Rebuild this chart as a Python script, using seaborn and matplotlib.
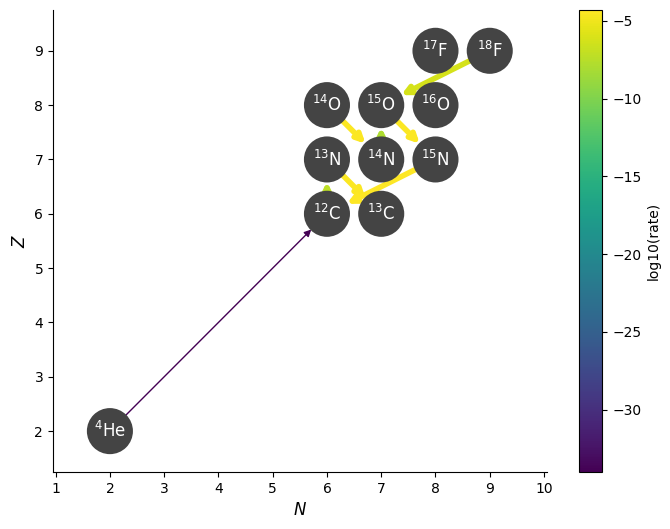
import matplotlib
matplotlib.use("Agg")
import matplotlib.pyplot as plt
import seaborn as sns
import pandas as pd
import numpy as np
from matplotlib.patches import FancyArrowPatch

nuc_labels = [r"$^{4}$He", r"$^{12}$C", r"$^{13}$C", r"$^{13}$N", r"$^{14}$N", r"$^{15}$N",
              r"$^{14}$O", r"$^{15}$O", r"$^{16}$O", r"$^{17}$F", r"$^{18}$F"]
nuc_N = [2, 6, 7, 6, 7, 8, 6, 7, 8, 8, 9]
nuc_Z = [2, 6, 6, 7, 7, 7, 8, 8, 8, 9, 9]

rate_from = [(2, 2), (6, 6), (6, 7), (6, 8), (7, 8), (8, 7), (7, 7), (9, 9)]
rate_to = [(6, 6), (6, 7), (7, 6), (7, 7), (8, 7), (6, 6), (7, 8), (7, 8)]
rate_log = [-34.0, -7.3, -4.5, -4.5, -4.5, -4.4, -8.0, -6.2]

vmin, vmax = -34.0, -4.3

fig = plt.figure(figsize=(6.7, 5.29), dpi=100)
ax = fig.add_axes([0.079, 0.108, 0.737, 0.873])
cax = fig.add_axes([0.864, 0.108, 0.035, 0.873])
cmap = plt.get_cmap("viridis")
norm = matplotlib.colors.Normalize(vmin=vmin, vmax=vmax)

for (a, b, r) in zip(rate_from, rate_to, rate_log):
    lw = 1.0 if r < -20 else 4.0
    ms = 10 if r < -20 else 12
    arr = FancyArrowPatch(posA=a, posB=b, arrowstyle="-|>", mutation_scale=ms,
                          color=cmap(norm(r)), lw=lw, shrinkA=14, shrinkB=16, zorder=1)
    ax.add_patch(arr)

df = pd.DataFrame({"N": nuc_N, "Z": nuc_Z})
sns.scatterplot(data=df, x="N", y="Z", s=1100, color="#444444", edgecolor="none", ax=ax, zorder=2)
for n, z, lab in zip(nuc_N, nuc_Z, nuc_labels):
    ax.text(n, z, lab, color="white", ha="center", va="center", fontsize=12, zorder=3)

ax.set_xlim(0.95, 10.05)
ax.set_ylim(1.25, 9.75)
ax.set_xticks(range(1, 11))
ax.set_yticks(range(2, 10))
ax.set_xlabel("$N$", fontsize=12)
ax.set_ylabel("$Z$", fontsize=12)
ax.spines["top"].set_visible(False)
ax.spines["right"].set_visible(False)

sm = matplotlib.cm.ScalarMappable(norm=norm, cmap=cmap)
cb = fig.colorbar(sm, cax=cax)
cb.set_label("log10(rate)")

fig.savefig("out.png", dpi=100)
